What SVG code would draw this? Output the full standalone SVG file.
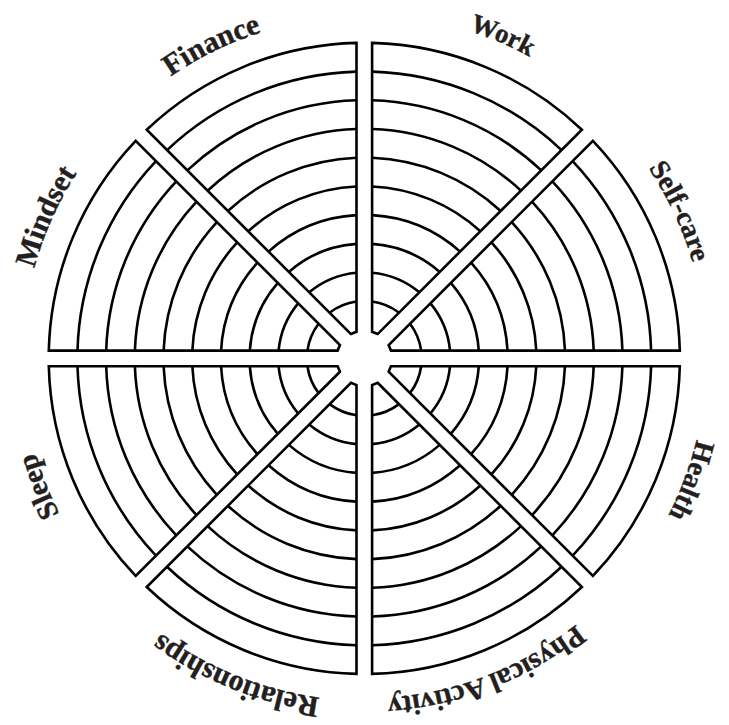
<svg xmlns="http://www.w3.org/2000/svg" xmlns:xlink="http://www.w3.org/1999/xlink" width="729" height="725" viewBox="0 0 729 725">
<style>
.ln{fill:none;stroke:#000;stroke-width:2.6;stroke-linejoin:miter;stroke-miterlimit:10}
.lb{font-family:"Liberation Serif","Times New Roman",serif;font-weight:bold;fill:#231f20;stroke:#231f20;stroke-width:0.4}
</style>
<defs>
<g id="sec">
<path class="ln" d="M27.6 -2.99 L294.47 -113.53 A315.6 315.6 0 0 1 294.47 113.53 L27.6 2.99 Z"/>
<path class="ln" d="M55.51 -14.55 A57.38 57.38 0 0 1 55.51 14.55 M82.18 -25.6 A86.07 86.07 0 0 1 82.18 25.6 M108.77 -36.61 A114.76 114.76 0 0 1 108.77 36.61 M135.32 -47.61 A143.46 143.46 0 0 1 135.32 47.61 M161.86 -58.6 A172.15 172.15 0 0 1 161.86 58.6 M188.39 -69.59 A200.84 200.84 0 0 1 188.39 69.59 M214.92 -80.58 A229.53 229.53 0 0 1 214.92 80.58 M241.44 -91.57 A258.22 258.22 0 0 1 241.44 91.57 M267.96 -102.55 A286.91 286.91 0 0 1 267.96 102.55"/>
</g>
<path id="pFinance" d="M45.02 480.96 A342 342 0 0 1 657.45 182.26"/>
<path id="pWork" d="M62.9 196.79 A342 342 0 0 1 689.19 465.22"/>
<path id="pSelf" d="M247.33 37.03 A342 342 0 0 1 535.3 654.58"/>
<path id="pHealth" d="M511.53 49.71 A342 342 0 0 1 272.9 687.96"/>
<path id="pPhys" d="M693.86 267 A342 342 0 0 1 55.61 505.63"/>
<path id="pRel" d="M669.02 513.66 A342 342 0 0 1 37.24 258.41"/>
<path id="pSleep" d="M461.43 686.32 A342 342 0 0 1 211.7 52.33"/>
<path id="pMind" d="M198.49 657.52 A342 342 0 0 1 475.65 35.03"/>
</defs>
<g id="connectors"/>
<g id="work">
<use href="#sec" xlink:href="#sec" transform="translate(364.3 358.4) rotate(-67.5)"/>
<text class="lb" font-size="27" text-anchor="middle" dy="-2"><textPath href="#pWork" xlink:href="#pWork" startOffset="50%">Work</textPath></text>
</g>
<g id="self-care">
<use href="#sec" xlink:href="#sec" transform="translate(364.3 358.4) rotate(-22.5)"/>
<text class="lb" font-size="28" text-anchor="middle"><textPath href="#pSelf" xlink:href="#pSelf" startOffset="50%">Self-care</textPath></text>
</g>
<g id="health">
<use href="#sec" xlink:href="#sec" transform="translate(364.3 358.4) rotate(22.5)"/>
<text class="lb" font-size="28" text-anchor="middle"><textPath href="#pHealth" xlink:href="#pHealth" startOffset="50%">Health</textPath></text>
</g>
<g id="physical-activity">
<use href="#sec" xlink:href="#sec" transform="translate(364.3 358.4) rotate(67.5)"/>
<text class="lb" font-size="29" text-anchor="middle" dy="2"><textPath href="#pPhys" xlink:href="#pPhys" startOffset="49.6%">Physical Activity</textPath></text>
</g>
<g id="relationships">
<use href="#sec" xlink:href="#sec" transform="translate(364.3 358.4) rotate(112.5)"/>
<text class="lb" font-size="30" text-anchor="middle"><textPath href="#pRel" xlink:href="#pRel" startOffset="50%">Relationships</textPath></text>
</g>
<g id="sleep">
<use href="#sec" xlink:href="#sec" transform="translate(364.3 358.4) rotate(157.5)"/>
<text class="lb" font-size="29" text-anchor="middle"><textPath href="#pSleep" xlink:href="#pSleep" startOffset="50%">Sleep</textPath></text>
</g>
<g id="mindset">
<use href="#sec" xlink:href="#sec" transform="translate(364.3 358.4) rotate(202.5)"/>
<text class="lb" font-size="30" text-anchor="middle"><textPath href="#pMind" xlink:href="#pMind" startOffset="50%">Mindset</textPath></text>
</g>
<g id="finance">
<use href="#sec" xlink:href="#sec" transform="translate(364.3 358.4) rotate(247.5)"/>
<text class="lb" font-size="30" text-anchor="middle"><textPath href="#pFinance" xlink:href="#pFinance" startOffset="50%">Finance</textPath></text>
</g>
</svg>
